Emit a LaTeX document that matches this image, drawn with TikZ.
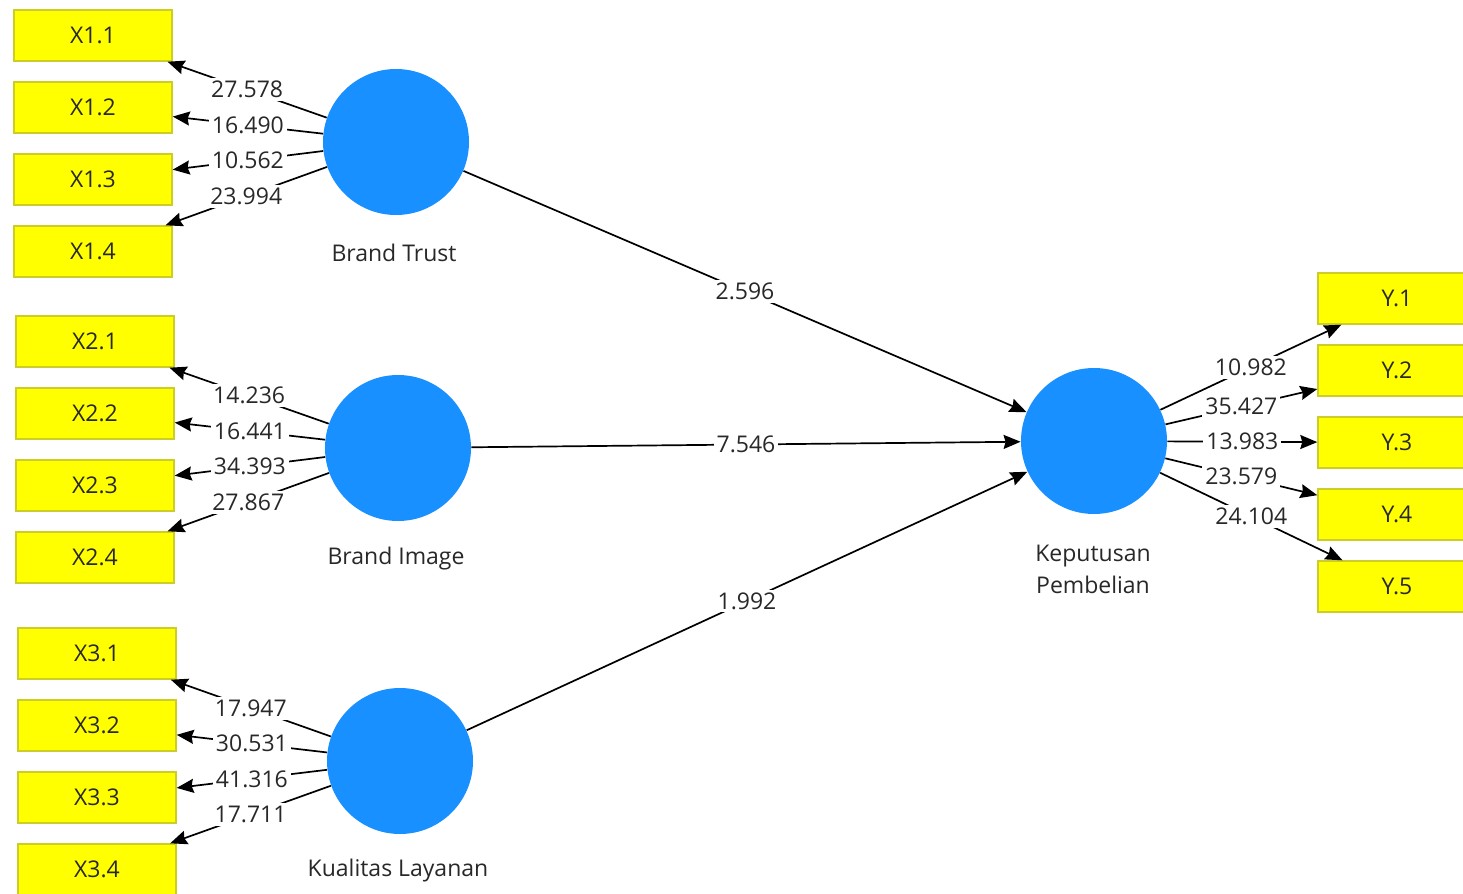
\documentclass[tikz,border=0pt]{standalone}
\usepackage{fontspec}
\setmainfont{Open Sans}
\usetikzlibrary{arrows.meta}
\definecolor{lvblue}{RGB}{25,144,255}
\definecolor{mvyellow}{RGB}{255,255,0}
\definecolor{mvborder}{RGB}{205,205,40}
\definecolor{txt}{RGB}{40,40,40}
\begin{document}
\begin{tikzpicture}[x=0.5pt,y=-0.5pt,
  mv/.style={draw=mvborder, line width=0.7pt, fill=mvyellow, minimum width=79pt, minimum height=25.5pt, inner sep=0pt, font=\fontsize{11.5}{13}\selectfont, text=txt},
  lv/.style={circle, fill=lvblue, minimum size=73pt, inner sep=0pt},
  lvname/.style={font=\fontsize{11.5}{16}\selectfont, text=txt, align=center},
  lbl/.style={font=\fontsize{11.5}{13}\selectfont, fill=white, inner sep=1.5pt, text=txt},
  arr/.style={-{Stealth[length=8.5pt,width=7pt,inset=1pt]}, line width=0.85pt, black}]
\useasboundingbox (0,0) rectangle (1463,894);
\clip (0,0) rectangle (1463,894);
\fill[white] (0,0) rectangle (1463,894);

% latent variables
\node[lv] (bt) at (396,142) {};
\node[lv] (bi) at (398,448) {};
\node[lv] (kl) at (400,761) {};
\node[lv] (kp) at (1094,441) {};
\node[lvname] (btn) at (394,253) {Brand Trust};
\node[lvname] (bin) at (396,559) {Brand Image};
\node[lvname] (kln) at (398,871) {Kualitas Layanan};
\node[lvname] (kpn) at (1093,569) {Keputusan\\Pembelian};

% indicators
\node[mv] (x11) at (93,35.5) {X1.1};
\node[mv] (x12) at (93,107.5) {X1.2};
\node[mv] (x13) at (93,179.5) {X1.3};
\node[mv] (x14) at (93,251.5) {X1.4};
\node[mv] (x21) at (95,341.5) {X2.1};
\node[mv] (x22) at (95,413.5) {X2.2};
\node[mv] (x23) at (95,485.5) {X2.3};
\node[mv] (x24) at (95,557.5) {X2.4};
\node[mv] (x31) at (97,653.5) {X3.1};
\node[mv] (x32) at (97,725.5) {X3.2};
\node[mv] (x33) at (97,797.5) {X3.3};
\node[mv] (x34) at (97,869.5) {X3.4};
\node[mv] (y1) at (1397,298.5) {Y.1};
\node[mv] (y2) at (1397,370.5) {Y.2};
\node[mv] (y3) at (1397,442.5) {Y.3};
\node[mv] (y4) at (1397,514.5) {Y.4};
\node[mv] (y5) at (1397,586.5) {Y.5};

% outer loadings
\draw[arr] (bt) -- node[lbl] {27.578} (x11);
\draw[arr] (bt) -- node[lbl] {16.490} (x12);
\draw[arr] (bt) -- node[lbl] {10.562} (x13);
\draw[arr] (bt) -- node[lbl] {23.994} (x14);
\draw[arr] (bi) -- node[lbl] {14.236} (x21);
\draw[arr] (bi) -- node[lbl] {16.441} (x22);
\draw[arr] (bi) -- node[lbl] {34.393} (x23);
\draw[arr] (bi) -- node[lbl] {27.867} (x24);
\draw[arr] (kl) -- node[lbl] {17.947} (x31);
\draw[arr] (kl) -- node[lbl] {30.531} (x32);
\draw[arr] (kl) -- node[lbl] {41.316} (x33);
\draw[arr] (kl) -- node[lbl] {17.711} (x34);
\draw[arr] (kp) -- node[lbl] {10.982} (y1);
\draw[arr] (kp) -- node[lbl] {35.427} (y2);
\draw[arr] (kp) -- node[lbl] {13.983} (y3);
\draw[arr] (kp) -- node[lbl] {23.579} (y4);
\draw[arr] (kp) -- node[lbl] {24.104} (y5);

% structural paths
\draw[arr] (bt) -- node[lbl] {2.596} (kp);
\draw[arr] (bi) -- node[lbl] {7.546} (kp);
\draw[arr] (kl) -- node[lbl] {1.992} (kp);
\end{tikzpicture}
\end{document}
